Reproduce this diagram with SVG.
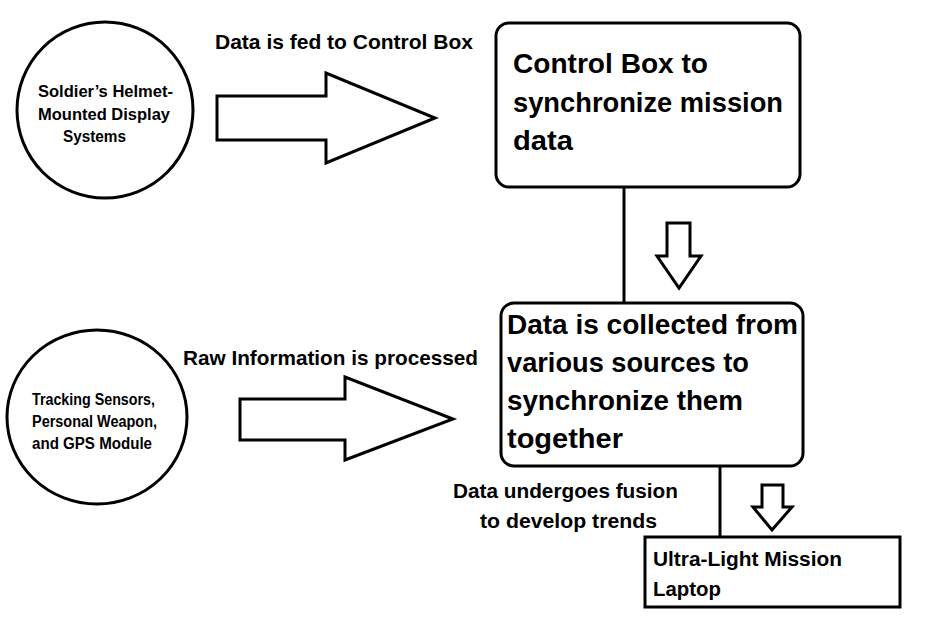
<svg xmlns="http://www.w3.org/2000/svg" width="946" height="637" viewBox="0 0 946 637">
<style>
.s{fill:#fff;stroke:#000;stroke-width:3;stroke-linejoin:miter}
.ln{stroke:#000;stroke-width:3;fill:none}
text{font-family:"Liberation Sans",Arial,sans-serif;font-weight:bold;fill:#000}
.sm{font-size:16px}
.lb{font-size:21px}
.bg{font-size:27px}
.md{font-size:20px}
</style>
<rect width="946" height="637" fill="#fff"/>
<g id="connectors">
<line class="ln" x1="624" y1="187" x2="624" y2="303"/>
<line class="ln" x1="720" y1="466" x2="720" y2="537"/>
<polygon class="s" points="217,96 326,96 326,73 435,118 326,163 326,140 217,140"/>
<polygon class="s" points="240,399 345,399 345,377 453,419 345,460 345,440 240,440"/>
<polygon class="s" points="667,223 690,223 690,256 701,256 679,288 657,256 667,256"/>
<polygon class="s" points="762,485 783,485 783,507 792,507 772,530 753,507 762,507"/>
<text class="lb" x="215" y="49" textLength="258" lengthAdjust="spacingAndGlyphs">Data is fed to Control Box</text>
<text class="lb" x="183" y="365" textLength="295" lengthAdjust="spacingAndGlyphs">Raw Information is processed</text>
<text class="md" x="453" y="498" textLength="225" lengthAdjust="spacingAndGlyphs">Data undergoes fusion</text>
<text class="md" x="480" y="528" textLength="177" lengthAdjust="spacingAndGlyphs">to develop trends</text>
</g>
<g id="helmet">
<circle class="s" cx="105" cy="110" r="88"/>
<text class="sm" x="38" y="97" textLength="135" lengthAdjust="spacingAndGlyphs">Soldier’s Helmet-</text>
<text class="sm" x="38" y="120" textLength="132" lengthAdjust="spacingAndGlyphs">Mounted Display</text>
<text class="sm" x="63" y="142" textLength="63" lengthAdjust="spacingAndGlyphs">Systems</text>
</g>
<g id="sensors">
<ellipse class="s" cx="97" cy="417" rx="90" ry="87"/>
<text class="sm" x="32" y="405" textLength="123" lengthAdjust="spacingAndGlyphs">Tracking Sensors,</text>
<text class="sm" x="32" y="427" textLength="125" lengthAdjust="spacingAndGlyphs">Personal Weapon,</text>
<text class="sm" x="32" y="449" textLength="120" lengthAdjust="spacingAndGlyphs">and GPS Module</text>
</g>
<g id="control">
<rect class="s" x="496" y="23" width="304" height="164" rx="13"/>
<text class="bg" x="513" y="73" textLength="195" lengthAdjust="spacingAndGlyphs">Control Box to</text>
<text class="bg" x="513" y="112" textLength="270" lengthAdjust="spacingAndGlyphs">synchronize mission</text>
<text class="bg" x="513" y="150" textLength="60" lengthAdjust="spacingAndGlyphs">data</text>
</g>
<g id="collect">
<rect class="s" x="501" y="303" width="302" height="163" rx="13"/>
<text class="bg" x="507" y="334" textLength="291" lengthAdjust="spacingAndGlyphs">Data is collected from</text>
<text class="bg" x="507" y="372" textLength="242" lengthAdjust="spacingAndGlyphs">various sources to</text>
<text class="bg" x="507" y="410" textLength="236" lengthAdjust="spacingAndGlyphs">synchronize them</text>
<text class="bg" x="507" y="448" textLength="116" lengthAdjust="spacingAndGlyphs">together</text>
</g>
<g id="laptop">
<rect class="s" x="645" y="537" width="255" height="70"/>
<text class="md" x="653" y="566" textLength="189" lengthAdjust="spacingAndGlyphs">Ultra-Light Mission</text>
<text class="md" x="653" y="596" textLength="68" lengthAdjust="spacingAndGlyphs">Laptop</text>
</g>
</svg>
